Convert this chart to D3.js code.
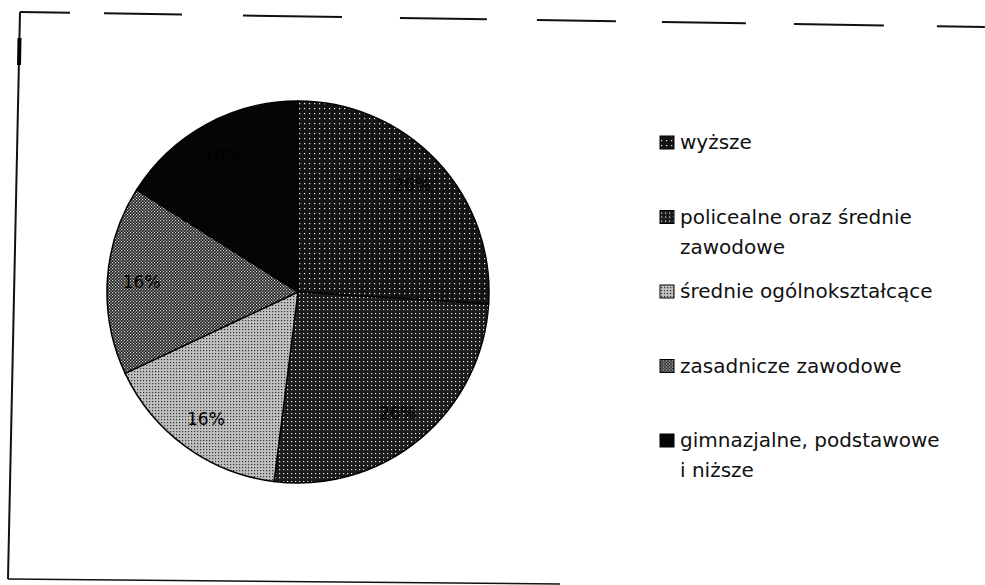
<!DOCTYPE html>
<html>
<head>
<meta charset="utf-8">
<script src="https://cdn.jsdelivr.net/npm/d3@7"></script>
<style>
  body { margin: 0; background: #fff; }
  svg { display: block; }
  .legend text { font-family: "DejaVu Sans", sans-serif; font-size: 20px; fill: #111; }
  .pct { font-family: "DejaVu Sans", sans-serif; font-size: 17px; fill: #000; }
</style>
</head>
<body>
<div id="chart"></div>
<script>
// shares of education levels (%)
var categories = ["wyższe", "policealne oraz średnie zawodowe", "średnie ogólnokształcące",
                  "zasadnicze zawodowe", "gimnazjalne, podstawowe i niższe"];
var legendLines = [["wyższe"], ["policealne oraz średnie", "zawodowe"], ["średnie ogólnokształcące"],
                   ["zasadnicze zawodowe"], ["gimnazjalne, podstawowe", "i niższe"]];
var values = [26, 26, 16, 16, 16];
var pctLabels = ["26%", "26%", "16%", "16%", "16%"];

var width = 985, height = 585;
var cx = 298, cy = 292, radius = 191;

var svg = d3.select('#chart').append('svg')
  .attr('width', width)
  .attr('height', height);

// dotted fills like the scanned print
var defs = svg.append('defs');
var patterns = [
  { id: 'p0', size: 5, bg: '#141414', dot: '#f0f0f0', d: 1.2, dots: [[1, 1]] },
  { id: 'p1', size: 4, bg: '#1a1a1a', dot: '#eeeeee', d: 1.2, dots: [[1, 1]] },
  { id: 'p2', size: 3, bg: '#c0c0c0', dot: '#333333', d: 1.2, dots: [[1, 1]] },
  { id: 'p3', size: 3, bg: '#1c1c1c', dot: '#dddddd', d: 1.2, dots: [[0, 0], [1.5, 1.5]] },
  { id: 'p4', size: 9, bg: '#050505', dot: '#050505', d: 1, dots: [[1, 1]] }
];
patterns.forEach(function(p) {
  var pat = defs.append('pattern')
    .attr('id', p.id)
    .attr('patternUnits', 'userSpaceOnUse')
    .attr('width', p.size)
    .attr('height', p.size);
  pat.append('rect').attr('width', p.size).attr('height', p.size).attr('fill', p.bg);
  p.dots.forEach(function(xy) {
    pat.append('rect').attr('x', xy[0]).attr('y', xy[1])
      .attr('width', p.d).attr('height', p.d).attr('fill', p.dot);
  });
});

var color = d3.scaleOrdinal()
  .domain(categories)
  .range(patterns.map(function(p) { return 'url(#' + p.id + ')'; }));

// frame (slightly skewed scan)
svg.append('line')
  .attr('x1', 20).attr('y1', 12).attr('x2', 985).attr('y2', 27)
  .attr('stroke', '#111').attr('stroke-width', 2)
  .attr('stroke-dasharray', '50,34,78,61,99,58,87,50,79,46,84,48,90,53,48');
svg.append('line')
  .attr('x1', 20).attr('y1', 12).attr('x2', 8).attr('y2', 579)
  .attr('stroke', '#111').attr('stroke-width', 2);
svg.append('line')
  .attr('x1', 19.5).attr('y1', 38).attr('x2', 19).attr('y2', 65)
  .attr('stroke', '#000').attr('stroke-width', 4);
svg.append('line')
  .attr('x1', 8).attr('y1', 579).attr('x2', 560).attr('y2', 584)
  .attr('stroke', '#111').attr('stroke-width', 1.6);

var pie = d3.pie().sort(null).value(function(d) { return d; });
var arc = d3.arc().innerRadius(0).outerRadius(radius);
var labelArc = d3.arc().innerRadius(radius * 0.82).outerRadius(radius * 0.82);

var g = svg.append('g').attr('transform', 'translate(' + cx + ',' + cy + ')');
var arcs = pie(values);

g.selectAll('path')
  .data(arcs)
  .enter().append('path')
  .attr('d', arc)
  .attr('fill', function(d, i) { return color(categories[i]); })
  .attr('stroke', '#000')
  .attr('stroke-width', 1.5);

g.selectAll('text')
  .data(arcs)
  .enter().append('text')
  .attr('class', 'pct')
  .attr('transform', function(d) { return 'translate(' + labelArc.centroid(d) + ')'; })
  .attr('text-anchor', 'middle')
  .attr('dy', '0.35em')
  .text(function(d, i) { return pctLabels[i]; });

// legend
var legend = svg.append('g').attr('class', 'legend');
var rowY = d3.scaleLinear().domain([0, categories.length - 1]).range([149, 447]);

var item = legend.selectAll('g')
  .data(categories)
  .enter().append('g')
  .attr('transform', function(d, i) { return 'translate(0,' + rowY(i) + ')'; });

item.append('rect')
  .attr('x', 660).attr('y', -13)
  .attr('width', 14).attr('height', 13)
  .attr('fill', function(d) { return color(d); })
  .attr('stroke', '#000');

item.append('text')
  .attr('x', 680)
  .selectAll('tspan')
  .data(function(d, i) { return legendLines[i]; })
  .enter().append('tspan')
  .attr('x', 680)
  .attr('y', function(d, j) { return j * 30; })
  .text(function(d) { return d; });
</script>
</body>
</html>
